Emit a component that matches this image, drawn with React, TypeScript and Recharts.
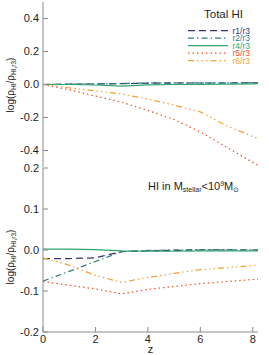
import React from "react";
import { LineChart, Line, XAxis, YAxis } from "recharts";

// redshift samples
const Z = [0, 1, 2, 3, 4, 5, 6, 7, 8, 8.2];

// top panel: total HI, log ratio to r3
const TOTAL_R1 = [0, 0.002, 0.003, 0.005, 0.008, 0.009, 0.009, 0.009, 0.01, 0.01];
const TOTAL_R2 = [0, 0.002, 0.004, 0.006, 0.009, 0.01, 0.01, 0.01, 0.011, 0.011];
const TOTAL_R4 = [0, 0, -0.003, -0.01, -0.002, 0, 0.001, 0.002, 0.004, 0.005];
const TOTAL_R5 = [0, -0.032, -0.07, -0.107, -0.157, -0.212, -0.288, -0.38, -0.472, -0.49];
const TOTAL_R6 = [0, -0.02, -0.038, -0.058, -0.088, -0.125, -0.166, -0.25, -0.315, -0.327];

// bottom panel: HI in low-mass galaxies
const LOW_R1 = [-0.021, -0.021, -0.019, -0.004, -0.002, -0.001, 0, 0, 0, 0];
const LOW_R2 = [-0.076, -0.052, -0.028, -0.004, -0.001, 0, 0.001, 0.001, 0, 0];
const LOW_R4 = [0.002, 0.002, 0.001, -0.002, -0.003, -0.003, -0.002, -0.002, -0.002, -0.002];
const LOW_R5 = [-0.077, -0.086, -0.095, -0.107, -0.096, -0.089, -0.082, -0.077, -0.072, -0.071];
const LOW_R6 = [-0.019, -0.037, -0.062, -0.079, -0.067, -0.057, -0.048, -0.043, -0.038, -0.037];

const SERIES_KEYS = ["r1", "r2", "r4", "r5", "r6"];
const SERIES_NAMES = ["r1/r3", "r2/r3", "r4/r3", "r5/r3", "r6/r3"];
const SERIES_COLORS = ["#34346e", "#2f7a8c", "#2ea56c", "#e8522c", "#f3a136"];
const SERIES_DASH = ["7 4", "6 3 1.5 3", undefined, "1.5 3", "6 3 1.5 3 1.5 3 1.5 3"];

const X_MINOR = [0.5, 1, 1.5, 2.5, 3, 3.5, 4.5, 5, 5.5, 6.5, 7, 7.5];
const X_LABELS = [0, 2, 4, 6, 8];
const Y_TOP_MINOR = [-0.45, -0.35, -0.3, -0.25, -0.15, -0.1, -0.05, 0.05, 0.1, 0.15, 0.25, 0.3, 0.35, 0.45];
const Y_TOP_LABELS = [-0.4, -0.2, 0, 0.2, 0.4];
const Y_BOT_MINOR = [
  -0.19, -0.18, -0.17, -0.16, -0.15, -0.14, -0.13, -0.12, -0.11,
  -0.09, -0.08, -0.07, -0.06, -0.05, -0.04, -0.03, -0.02, -0.01,
  0.01, 0.02, 0.03, 0.04, 0.05, 0.06, 0.07, 0.08, 0.09,
  0.11, 0.12, 0.13, 0.14, 0.15, 0.16, 0.17, 0.18, 0.19,
];
const Y_BOT_LABELS = [-0.2, -0.1, 0, 0.1, 0.2];

const FONT = '"Liberation Sans", Arial, Helvetica, sans-serif';
const FRAME = "#8a8a8a";
const INK = "#1e1e1e";
const MAJOR = 5;
const MINOR = 2.5;

const toRows = (r1: number[], r2: number[], r4: number[], r5: number[], r6: number[]) =>
  Z.map((z, i) => ({ z, r1: r1[i], r2: r2[i], r4: r4[i], r5: r5[i], r6: r6[i] }));

const TOP_ROWS = toRows(TOTAL_R1, TOTAL_R2, TOTAL_R4, TOTAL_R5, TOTAL_R6);
const BOT_ROWS = toRows(LOW_R1, LOW_R2, LOW_R4, LOW_R5, LOW_R6);

const fmtY = (v: number) => (Math.abs(v) < 1e-9 ? "0.0" : v.toFixed(1));
const tickText = { fontSize: 11, fill: INK, fontFamily: FONT };
const tickStroke = { stroke: FRAME };
const noLabel = () => <g />;

// IDL-like box: labelled axes on left/bottom, inward ticks on all four sides.
// Every axis id carries the panel prefix so the two charts never share ids.
function frameAxes(p: string, yDomain: number[], yLabels: number[], yMinor: number[], showX: boolean) {
  const xCommon = { dataKey: "z", type: "number" as const, domain: [0, 8.2], allowDataOverflow: true, interval: 0 as const };
  const yCommon = { type: "number" as const, domain: yDomain, allowDataOverflow: true, interval: 0 as const };
  return [
    <XAxis
      key="xb"
      xAxisId={p + "xb"}
      {...xCommon}
      ticks={X_LABELS}
      height={showX ? 23 : 0}
      tickSize={-MAJOR}
      tickMargin={MAJOR + 3}
      tickLine={tickStroke}
      axisLine={tickStroke}
      tick={showX ? tickText : noLabel}
    />,
    <XAxis key="xbm" xAxisId={p + "xbm"} mirror {...xCommon} ticks={X_MINOR} height={0} tickSize={MINOR} tickLine={tickStroke} axisLine={false} tick={noLabel} />,
    <XAxis key="xt" xAxisId={p + "xt"} orientation="top" mirror {...xCommon} ticks={X_LABELS} height={0} tickSize={MAJOR} tickLine={tickStroke} axisLine={tickStroke} tick={noLabel} />,
    <XAxis key="xtm" xAxisId={p + "xtm"} orientation="top" mirror {...xCommon} ticks={X_MINOR} height={0} tickSize={MINOR} tickLine={tickStroke} axisLine={false} tick={noLabel} />,
    <YAxis
      key="yl"
      yAxisId={p + "yl"}
      {...yCommon}
      ticks={yLabels}
      width={43}
      tickSize={-MAJOR}
      tickMargin={MAJOR + 4}
      tickLine={tickStroke}
      axisLine={tickStroke}
      tick={tickText}
      tickFormatter={fmtY}
    />,
    <YAxis key="ylm" yAxisId={p + "ylm"} mirror {...yCommon} ticks={yMinor} width={0} tickSize={MINOR} tickLine={tickStroke} axisLine={false} tick={noLabel} />,
    <YAxis key="yr" yAxisId={p + "yr"} orientation="right" mirror {...yCommon} ticks={yLabels} width={0} tickSize={MAJOR} tickLine={tickStroke} axisLine={tickStroke} tick={noLabel} />,
    <YAxis key="yrm" yAxisId={p + "yrm"} orientation="right" mirror {...yCommon} ticks={yMinor} width={0} tickSize={MINOR} tickLine={tickStroke} axisLine={false} tick={noLabel} />,
  ];
}

function Panel({ prefix, rows, yDomain, yLabels, yMinor, showX, width, height, margin }: any) {
  return (
    <LineChart width={width} height={height} data={rows} margin={margin}>
      {frameAxes(prefix, yDomain, yLabels, yMinor, showX)}
      {SERIES_KEYS.map((k, i) => (
        <Line
          key={k}
          xAxisId={prefix + "xb"}
          yAxisId={prefix + "yl"}
          dataKey={k}
          name={SERIES_NAMES[i]}
          type="linear"
          stroke={SERIES_COLORS[i]}
          strokeWidth={1.2}
          strokeDasharray={SERIES_DASH[i]}
          dot={false}
          activeDot={false}
          isAnimationActive={false}
        />
      ))}
    </LineChart>
  );
}

function YTitle({ cx, cy }: { cx: number; cy: number }) {
  return (
    <text transform={`translate(${cx},${cy}) rotate(-90)`} textAnchor="middle" fontSize={10} fill={INK} fontFamily={FONT}>
      log(ρ
      <tspan fontSize={6.5} dy={2}>HI</tspan>
      <tspan dy={-2}>/ρ</tspan>
      <tspan fontSize={6.5} dy={2}>HI,r3</tspan>
      <tspan dy={-2}>)</tspan>
    </text>
  );
}

export default function App() {
  return (
    <div style={{ position: "absolute", left: 0, top: 0, width: 269, height: 355, background: "#fff", fontFamily: FONT }}>
      <div style={{ position: "absolute", left: 0, top: 0 }}>
        <Panel
          prefix="top-"
          rows={TOP_ROWS}
          yDomain={[-0.5, 0.5]}
          yLabels={Y_TOP_LABELS}
          yMinor={Y_TOP_MINOR}
          showX={false}
          width={269}
          height={168}
          margin={{ top: 2, right: 11, bottom: 1, left: 0 }}
        />
      </div>
      <div style={{ position: "absolute", left: 0, top: 158 }}>
        <Panel
          prefix="low-"
          rows={BOT_ROWS}
          yDomain={[-0.2, 0.2]}
          yLabels={Y_BOT_LABELS}
          yMinor={Y_BOT_MINOR}
          showX={true}
          width={269}
          height={197}
          margin={{ top: 10, right: 11, bottom: 0, left: 0 }}
        />
      </div>
      <svg width={269} height={355} style={{ position: "absolute", left: 0, top: 0, pointerEvents: "none" }}>
        <YTitle cx={14} cy={85} />
        <YTitle cx={14} cy={257} />
        <text x={243} y={18} textAnchor="end" fontSize={11.5} fill={INK} fontFamily={FONT}>
          Total HI
        </text>
        {SERIES_NAMES.map((n, i) => {
          const yy = 30.7 + i * 7.5;
          return (
            <g key={n}>
              <line x1={188} y1={yy} x2={228} y2={yy} stroke={SERIES_COLORS[i]} strokeWidth={1.2} strokeDasharray={SERIES_DASH[i]} />
              <text x={250} y={yy + 3} textAnchor="end" fontSize={8.5} fill={SERIES_COLORS[i]} fontFamily={FONT}>
                {n}
              </text>
            </g>
          );
        })}
        <text x={148} y={190} fontSize={11} fill={INK} fontFamily={FONT}>
          HI in M
          <tspan fontSize={7} dy={2}>stellar</tspan>
          <tspan dy={-2}>{"<10"}</tspan>
          <tspan fontSize={7} dy={-4}>9</tspan>
          <tspan dy={4}>M</tspan>
          <tspan fontSize={7} dy={2}>⊙</tspan>
        </text>
        <text x={150.5} y={353} textAnchor="middle" fontSize={11} fill={INK} fontFamily={FONT}>
          z
        </text>
      </svg>
    </div>
  );
}
